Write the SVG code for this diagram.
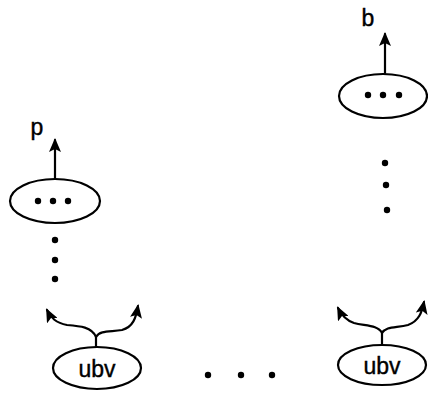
<svg xmlns="http://www.w3.org/2000/svg" width="428" height="393" viewBox="0 0 428 393">
<style>
.e{fill:none;stroke:#000;stroke-width:2.2}
.c{fill:none;stroke:#000;stroke-width:2.2;stroke-linecap:round}
.t{font-family:"Liberation Sans",Arial,sans-serif;font-size:23px;fill:#000;stroke:#000;stroke-width:0.4;text-anchor:middle}
.d{fill:#000}
</style>
<defs>
<marker id="ah" viewBox="0 0 14 12" refX="12" refY="6" markerWidth="14" markerHeight="12" orient="auto" markerUnits="userSpaceOnUse">
<path d="M0,0 L14,6 L0,12 L3,6 Z" fill="#000"/>
</marker>
</defs>
<g id="connectors">
<path class="c" d="M55,179 L55,140" marker-end="url(#ah)"/>
<path class="c" d="M385,73 L385,34" marker-end="url(#ah)"/>
<path class="c" d="M96,347 L96,337 C92,327 80,326 67,325 C56,323 51,318 47,310" marker-end="url(#ah)"/>
<path class="c" d="M96,337 C100,330 110,332 122,330 C133,327 136,318 138,306" marker-end="url(#ah)"/>
<path class="c" d="M382,345 L382,333 C378,325 366,326 354,323 C345,320 341,314 338,308" marker-end="url(#ah)"/>
<path class="c" d="M382,333 C386,326 396,328 408,325 C419,321 422,312 424,302" marker-end="url(#ah)"/>
</g>
<g id="label-p"><text class="t" x="37" y="135">p</text></g>
<g id="label-b"><text class="t" x="368" y="26">b</text></g>
<g id="node-left-top">
<ellipse class="e" cx="55" cy="201" rx="45" ry="22"/>
<circle class="d" cx="38" cy="201" r="3.2"/><circle class="d" cx="53" cy="201" r="3.2"/><circle class="d" cx="68" cy="201" r="3.2"/>
</g>
<g id="vdots-left">
<circle class="d" cx="55" cy="240" r="3.2"/><circle class="d" cx="55" cy="260" r="3.2"/><circle class="d" cx="55" cy="279" r="3.2"/>
</g>
<g id="node-right-top">
<ellipse class="e" cx="383" cy="96" rx="44" ry="22"/>
<circle class="d" cx="368" cy="95" r="3.2"/><circle class="d" cx="383" cy="95" r="3.2"/><circle class="d" cx="399" cy="95" r="3.2"/>
</g>
<g id="vdots-right">
<circle class="d" cx="385" cy="163" r="3.2"/><circle class="d" cx="386" cy="185" r="3.2"/><circle class="d" cx="387" cy="210" r="3.2"/>
</g>
<g id="node-ubv-left">
<ellipse class="e" cx="97" cy="368" rx="44" ry="21"/>
<text class="t" x="97" y="377">ubv</text>
</g>
<g id="node-ubv-right">
<ellipse class="e" cx="382" cy="365" rx="44" ry="20"/>
<text class="t" x="382" y="374">ubv</text>
</g>
<g id="hdots">
<circle class="d" cx="208" cy="375" r="3.2"/><circle class="d" cx="241" cy="375" r="3.2"/><circle class="d" cx="272" cy="375" r="3.2"/>
</g>
</svg>
